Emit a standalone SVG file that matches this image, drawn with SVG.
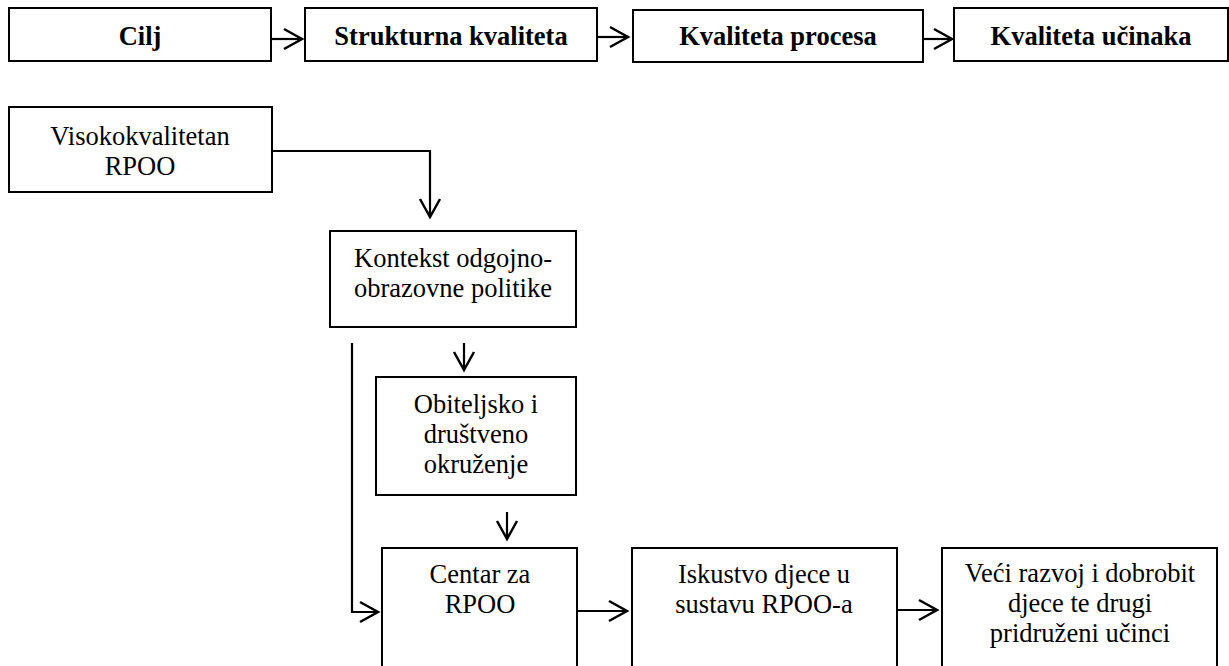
<svg xmlns="http://www.w3.org/2000/svg" width="1229" height="666" viewBox="0 0 1229 666">
<style>
.box{fill:#fff;stroke:#000;stroke-width:2}
.t{font-family:'Liberation Serif','Times New Roman',Times,'DejaVu Serif',serif;font-size:26.5px;fill:#000;text-anchor:middle}
.b{font-weight:bold}
.c{fill:none;stroke:#000;stroke-width:2.2}
</style>
<defs>
<marker id="ah" markerUnits="userSpaceOnUse" markerWidth="24" markerHeight="24" refX="19" refY="10" orient="auto" overflow="visible">
<path d="M1,0 L19,10 L1,20" fill="none" stroke="#000" stroke-width="2.5"/>
</marker>
</defs>
<rect width="1229" height="666" fill="#fff"/>
<g id="n-cilj"><rect class="box" x="9" y="8" width="262" height="53"/><text class="t b" x="140" y="45">Cilj</text></g>
<g id="n-strukturna"><rect class="box" x="305" y="8" width="292" height="53"/><text class="t b" x="451" y="45">Strukturna kvaliteta</text></g>
<g id="n-procesa"><rect class="box" x="633" y="10" width="290" height="52"/><text class="t b" x="778" y="45">Kvaliteta procesa</text></g>
<g id="n-ucinaka"><rect class="box" x="954" y="8" width="274" height="53"/><text class="t b" x="1091" y="45">Kvaliteta učinaka</text></g>
<g id="n-visoko"><rect class="box" x="9" y="107" width="263" height="85"/><text class="t" x="140" y="145">Visokokvalitetan</text><text class="t" x="140" y="175">RPOO</text></g>
<g id="n-kontekst"><rect class="box" x="330" y="231" width="246" height="96"/><text class="t" x="453" y="267">Kontekst odgojno-</text><text class="t" x="453" y="297">obrazovne politike</text></g>
<g id="n-obitelj"><rect class="box" x="376" y="377" width="200" height="118"/><text class="t" x="476" y="413">Obiteljsko i</text><text class="t" x="476" y="443">društveno</text><text class="t" x="476" y="473">okruženje</text></g>
<g id="n-centar"><rect class="box" x="382" y="548" width="195" height="130"/><text class="t" x="480" y="583">Centar za</text><text class="t" x="480" y="613">RPOO</text></g>
<g id="n-iskustvo"><rect class="box" x="632" y="548" width="265" height="130"/><text class="t" x="764" y="583">Iskustvo djece u</text><text class="t" x="764" y="613">sustavu RPOO-a</text></g>
<g id="n-veci"><rect class="box" x="942" y="548" width="275" height="130"/><text class="t" x="1080" y="582">Veći razvoj i dobrobit</text><text class="t" x="1080" y="612">djece te drugi</text><text class="t" x="1080" y="642">pridruženi učinci</text></g>
<g id="connectors">
<path class="c" d="M271,39 H302" marker-end="url(#ah)"/>
<path class="c" d="M597,37 H628" marker-end="url(#ah)"/>
<path class="c" d="M923,39 H952" marker-end="url(#ah)"/>
<path class="c" d="M272,151 H430 V217" marker-end="url(#ah)"/>
<path class="c" d="M464,343 V370" marker-end="url(#ah)"/>
<path class="c" d="M352,343 V612 H378" marker-end="url(#ah)"/>
<path class="c" d="M507,512 V539" marker-end="url(#ah)"/>
<path class="c" d="M577,611 H627" marker-end="url(#ah)"/>
<path class="c" d="M897,610 H937" marker-end="url(#ah)"/>
</g>
</svg>
